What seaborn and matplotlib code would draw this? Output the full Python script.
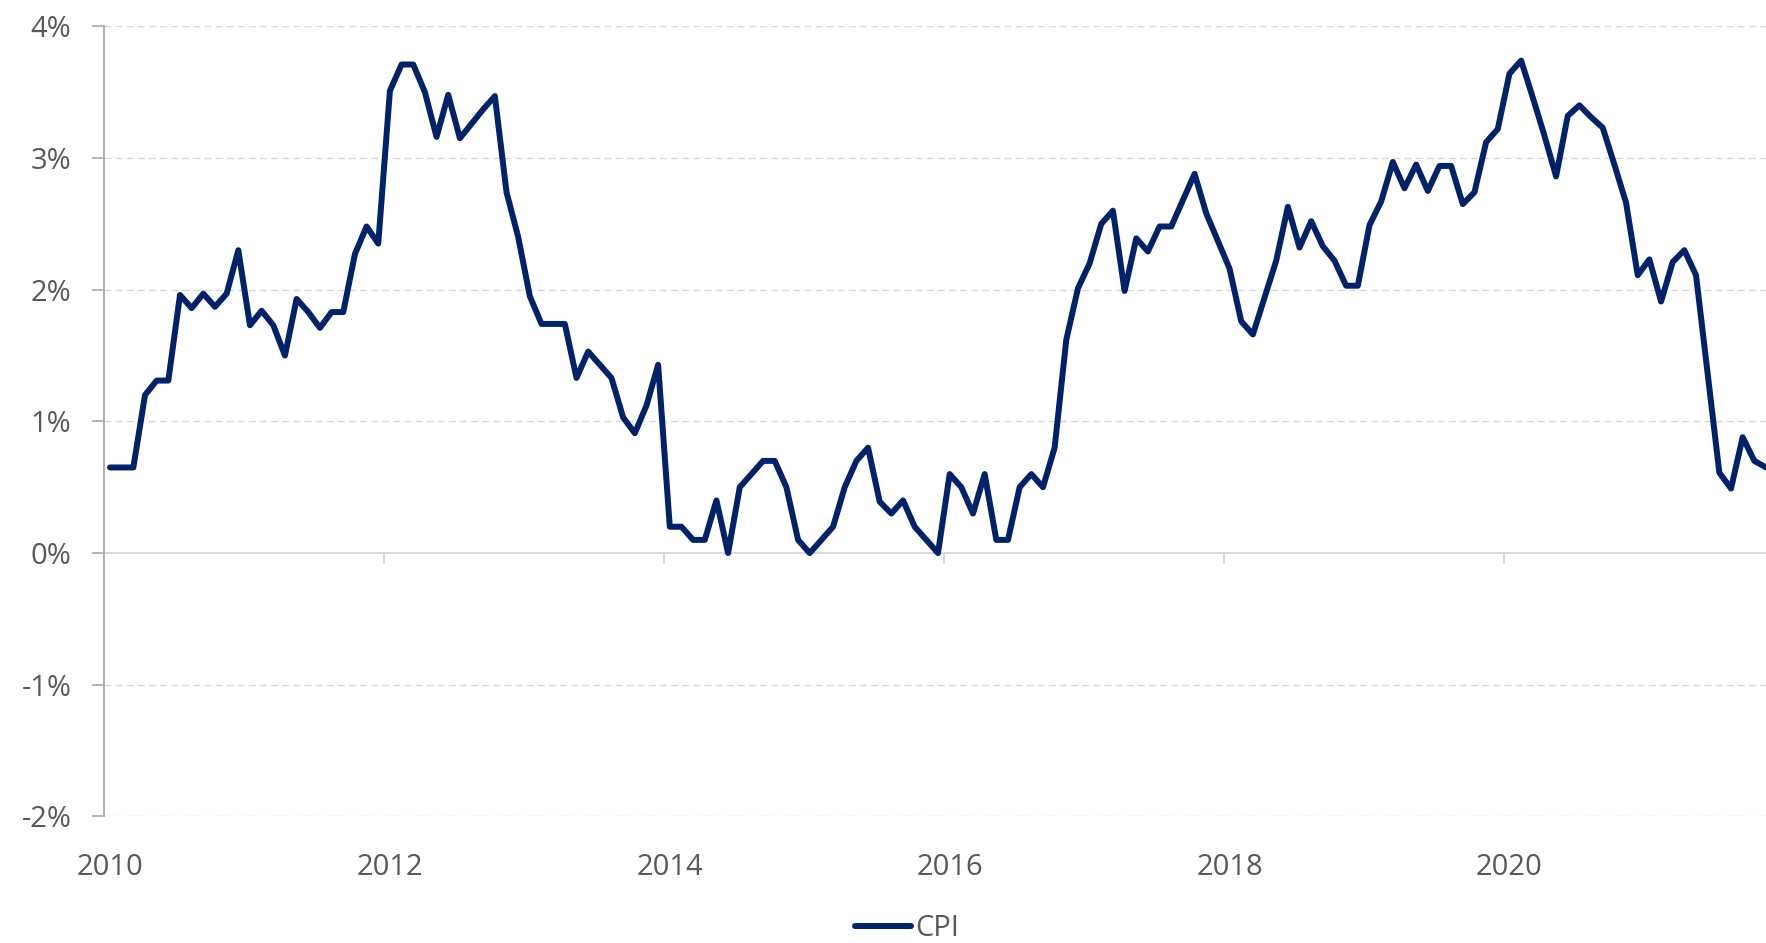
import numpy as np
import pandas as pd
import matplotlib
matplotlib.use('Agg')
import matplotlib.pyplot as plt
import seaborn as sns
from matplotlib.ticker import FuncFormatter, FixedLocator

# monthly CPI (% y/y), Jan 2010 - Nov 2021
cpi_2010 = [0.65, 0.65, 0.65, 1.20, 1.31, 1.31, 1.96, 1.86, 1.97, 1.87, 1.97, 2.30]
cpi_2011 = [1.73, 1.84, 1.73, 1.50, 1.93, 1.83, 1.71, 1.83, 1.83, 2.27, 2.48, 2.35]
cpi_2012 = [3.51, 3.71, 3.71, 3.50, 3.16, 3.48, 3.15, 3.26, 3.37, 3.47, 2.74, 2.40]
cpi_2013 = [1.95, 1.74, 1.74, 1.74, 1.33, 1.53, 1.43, 1.33, 1.03, 0.91, 1.12, 1.43]
cpi_2014 = [0.20, 0.20, 0.10, 0.10, 0.40, 0.00, 0.50, 0.60, 0.70, 0.70, 0.50, 0.10]
cpi_2015 = [0.00, 0.10, 0.20, 0.50, 0.70, 0.80, 0.39, 0.30, 0.40, 0.20, 0.10, 0.00]
cpi_2016 = [0.60, 0.50, 0.30, 0.60, 0.10, 0.10, 0.50, 0.60, 0.50, 0.80, 1.62, 2.01]
cpi_2017 = [2.20, 2.50, 2.60, 1.99, 2.39, 2.29, 2.48, 2.48, 2.68, 2.88, 2.58, 2.37]
cpi_2018 = [2.16, 1.76, 1.66, 1.94, 2.22, 2.63, 2.32, 2.52, 2.33, 2.22, 2.03, 2.03]
cpi_2019 = [2.49, 2.67, 2.97, 2.77, 2.95, 2.75, 2.94, 2.94, 2.65, 2.74, 3.12, 3.22]
cpi_2020 = [3.64, 3.74, 3.46, 3.17, 2.86, 3.32, 3.40, 3.31, 3.23, 2.95, 2.66, 2.11]
cpi_2021 = [2.23, 1.91, 2.21, 2.30, 2.11, 1.36, 0.61, 0.49, 0.88, 0.70, 0.65]

year_labels = ['2010', '2012', '2014', '2016', '2018', '2020']
y_ticks = [-2, -1, 0, 1, 2, 3, 4]

cpi = (cpi_2010 + cpi_2011 + cpi_2012 + cpi_2013 + cpi_2014 + cpi_2015
       + cpi_2016 + cpi_2017 + cpi_2018 + cpi_2019 + cpi_2020 + cpi_2021)
df = pd.DataFrame({'month': np.arange(len(cpi)), 'CPI': cpi})

sns.set_style('white')
plt.rcParams['font.family'] = ['Open Sans', 'DejaVu Sans']
plt.rcParams['axes.unicode_minus'] = False

text_col = '#595959'
fig = plt.figure(figsize=(17.66, 9.43), dpi=100)
ax = fig.add_axes([0.059, 0.1342, 0.941, 0.8379])

sns.lineplot(data=df, x='month', y='CPI', color='#00226A', linewidth=4.3,
             solid_capstyle='round', solid_joinstyle='round', ax=ax, label='CPI', legend=False)

ax.set_xlim(-0.5, 142.0)
ax.set_ylim(-2, 4)
ax.set_xlabel('')
ax.set_ylabel('')

# y axis
ax.yaxis.set_major_locator(FixedLocator(y_ticks))
ax.yaxis.set_major_formatter(FuncFormatter(lambda v, p: f'{v:.0f}%'))
ax.tick_params(axis='y', which='major', left=True, length=8.5, width=1.3, color='#b0b0b0',
               labelsize=21, labelcolor=text_col, pad=15)
for v in y_ticks:
    if v != 0:
        ax.axhline(v, color='#d9d9d9', lw=1.0, ls=(0, (5, 3)), zorder=0)
ax.spines['left'].set_color('#b0b0b0')
ax.spines['left'].set_linewidth(1.4)
for s in ['top', 'right', 'bottom']:
    ax.spines[s].set_visible(False)

# x labels at the bottom, one every two years
ax.set_xticks(np.arange(0, 24 * len(year_labels), 24))
ax.set_xticklabels(year_labels)
ax.tick_params(axis='x', which='major', length=0, labelsize=21, labelcolor=text_col, pad=26)

# zero line with tick marks between categories
zero = ax.secondary_xaxis(1 / 3)
zero.set_xticks(np.arange(23.5, 142, 24))
zero.set_xticklabels([])
zero.tick_params(axis='x', length=8, width=1.4, color='#d9d9d9', direction='out')
zero.spines['bottom'].set_color('#d9d9d9')
zero.spines['bottom'].set_linewidth(1.4)
for s in ['top', 'left', 'right']:
    zero.spines[s].set_visible(False)

handles, labels = ax.get_legend_handles_labels()
fig.legend(handles, labels, loc='center', bbox_to_anchor=(907 / 1766, 1 - 929 / 943),
           frameon=False, fontsize=21, labelcolor=text_col, handlelength=1.9,
           handletextpad=0.15)

fig.savefig('out.png', dpi=100)
